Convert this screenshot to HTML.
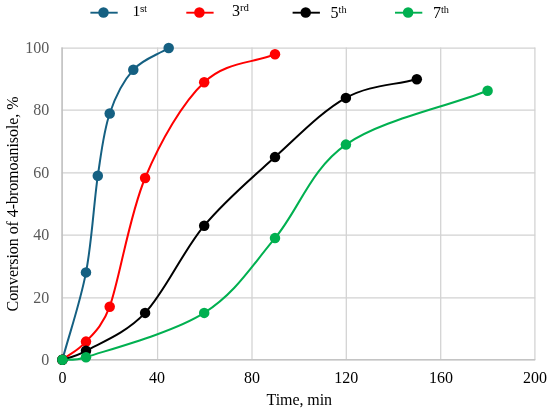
<!DOCTYPE html>
<html><head><meta charset="utf-8"><title>Chart</title>
<style>
html,body{margin:0;padding:0;background:#fff;}
body{width:550px;height:413px;overflow:hidden;}
svg{display:block;font-family:"Liberation Serif","Times New Roman",serif;font-size:16px;}
</style></head><body>
<svg width="550" height="413" viewBox="0 0 550 413">
<rect width="550" height="413" fill="#fff"/>
<g stroke="#d2d2d2" stroke-width="1.25" fill="none">
<line x1="61.9" y1="47.5" x2="61.9" y2="360.1"/>
<line x1="61.4" y1="359.6" x2="535.2" y2="359.6"/>
<line x1="157.6" y1="47.5" x2="157.6" y2="360.1"/>
<line x1="61.4" y1="297.9" x2="535.2" y2="297.9"/>
<line x1="252.0" y1="47.5" x2="252.0" y2="360.1"/>
<line x1="61.4" y1="235.2" x2="535.2" y2="235.2"/>
<line x1="346.3" y1="47.5" x2="346.3" y2="360.1"/>
<line x1="61.4" y1="172.9" x2="535.2" y2="172.9"/>
<line x1="440.7" y1="47.5" x2="440.7" y2="360.1"/>
<line x1="61.4" y1="110.1" x2="535.2" y2="110.1"/>
<line x1="534.9" y1="47.5" x2="534.9" y2="360.1"/>
<line x1="61.4" y1="48.0" x2="535.2" y2="48.0"/>
<line x1="62.2" y1="47.5" x2="62.2" y2="360.1" stroke="#bfbfbf"/>
<line x1="61.4" y1="359.8" x2="535.2" y2="359.8" stroke="#bfbfbf"/>
</g>
<g fill="#595959">
<text x="62.4" y="382.9" text-anchor="middle" fill="#000">0</text>
<text x="49.3" y="364.6" text-anchor="end">0</text>
<text x="157.0" y="382.9" text-anchor="middle" fill="#000">40</text>
<text x="49.3" y="302.9" text-anchor="end">20</text>
<text x="252.0" y="382.9" text-anchor="middle" fill="#000">80</text>
<text x="49.3" y="240.2" text-anchor="end">40</text>
<text x="346.3" y="382.9" text-anchor="middle" fill="#000">120</text>
<text x="49.3" y="177.9" text-anchor="end">60</text>
<text x="441.0" y="382.9" text-anchor="middle" fill="#000">160</text>
<text x="49.3" y="115.1" text-anchor="end">80</text>
<text x="535.1" y="382.9" text-anchor="middle" fill="#000">200</text>
<text x="49.3" y="53.0" text-anchor="end">100</text>
</g>
<g>
<line x1="90.4" y1="12.7" x2="117.7" y2="12.7" stroke="#156082" stroke-width="1.9"/>
<circle cx="103.5" cy="12.5" r="5.25" fill="#156082"/>
<text x="132.6" y="16.3" fill="#000" font-size="15.6">1<tspan dy="-4.6" font-family="Liberation Sans, Arial, sans-serif" font-size="8.7" dx="-0.5">st</tspan></text>
<line x1="186.3" y1="12.7" x2="213.6" y2="12.7" stroke="#ff0000" stroke-width="1.9"/>
<circle cx="199.4" cy="12.5" r="5.25" fill="#ff0000"/>
<text x="232.0" y="15.6" fill="#000" font-size="16">3<tspan dy="-4.3" font-size="10.8">rd</tspan></text>
<line x1="292.6" y1="12.7" x2="319.9" y2="12.7" stroke="#000000" stroke-width="1.9"/>
<circle cx="305.7" cy="12.5" r="5.25" fill="#000000"/>
<text x="330.6" y="17.7" fill="#000" font-size="16">5<tspan dy="-5.0" font-size="10.3">th</tspan></text>
<line x1="395.0" y1="12.7" x2="422.3" y2="12.7" stroke="#00b050" stroke-width="1.9"/>
<circle cx="408.1" cy="12.5" r="5.25" fill="#00b050"/>
<text x="433.0" y="17.7" fill="#000" font-size="16">7<tspan dy="-5.0" font-size="10.3">th</tspan></text>
</g>
<text x="299.3" y="405.4" text-anchor="middle" fill="#000" textLength="65.4">Time, min</text>
<text transform="translate(17.5 203.95) rotate(-90)" text-anchor="middle" fill="#000" textLength="215">Conversion of 4-bromoanisole, %</text>
<g fill="#156082" stroke="#156082">
<path d="M62.4 359.7 C70.3 330.6 80.1 303.1 86.0 272.4 C91.9 241.8 93.9 202.3 97.8 175.8 C101.8 149.3 103.7 131.1 109.7 113.5 C115.6 95.8 123.4 80.7 133.3 69.8 C143.1 58.9 156.9 55.3 168.7 48.0" fill="none" stroke-width="2" stroke-linecap="round" stroke-linejoin="round"/>
<circle cx="62.4" cy="359.7" r="5.25" stroke="none"/>
<circle cx="86.0" cy="272.4" r="5.25" stroke="none"/>
<circle cx="97.8" cy="175.8" r="5.25" stroke="none"/>
<circle cx="109.7" cy="113.5" r="5.25" stroke="none"/>
<circle cx="133.3" cy="69.8" r="5.25" stroke="none"/>
<circle cx="168.7" cy="48.0" r="5.25" stroke="none"/>
</g>
<g fill="#ff0000" stroke="#ff0000">
<path d="M62.4 359.7 C70.3 353.7 78.2 350.5 86.0 341.6 C91.7 335.2 102.5 326.5 109.7 306.7 C119.5 279.4 129.3 215.4 145.1 178.0 C160.8 140.6 182.5 102.9 204.2 82.3 C225.8 61.7 251.4 63.6 275.0 54.2" fill="none" stroke-width="2" stroke-linecap="round" stroke-linejoin="round"/>
<circle cx="62.4" cy="359.7" r="5.25" stroke="none"/>
<circle cx="86.0" cy="341.6" r="5.25" stroke="none"/>
<circle cx="109.7" cy="306.7" r="5.25" stroke="none"/>
<circle cx="145.1" cy="178.0" r="5.25" stroke="none"/>
<circle cx="204.2" cy="82.3" r="5.25" stroke="none"/>
<circle cx="275.0" cy="54.2" r="5.25" stroke="none"/>
</g>
<g fill="#000000" stroke="#000000">
<path d="M62.4 359.7 C65.5 358.5 75.0 357.0 86.0 350.8 C99.8 343.0 125.4 333.8 145.1 312.9 C164.8 292.1 182.5 251.6 204.2 225.7 C225.8 199.7 251.4 178.4 275.0 157.1 C298.6 135.8 322.3 110.9 345.9 97.9 C369.5 84.9 393.1 85.4 416.8 79.2" fill="none" stroke-width="2" stroke-linecap="round" stroke-linejoin="round"/>
<circle cx="62.4" cy="359.7" r="5.25" stroke="none"/>
<circle cx="86.0" cy="350.8" r="5.25" stroke="none"/>
<circle cx="145.1" cy="312.9" r="5.25" stroke="none"/>
<circle cx="204.2" cy="225.7" r="5.25" stroke="none"/>
<circle cx="275.0" cy="157.1" r="5.25" stroke="none"/>
<circle cx="345.9" cy="97.9" r="5.25" stroke="none"/>
<circle cx="416.8" cy="79.2" r="5.25" stroke="none"/>
</g>
<g fill="#00b050" stroke="#00b050">
<path d="M62.4 359.7 C64.3 359.5 74.7 360.9 86.0 357.2 C109.7 349.4 172.7 332.8 204.2 312.9 C235.7 293.1 251.4 266.2 275.0 238.1 C298.6 210.1 310.5 169.2 345.9 144.6 C381.3 120.1 440.4 108.7 487.6 90.7" fill="none" stroke-width="2" stroke-linecap="round" stroke-linejoin="round"/>
<circle cx="62.4" cy="359.7" r="5.25" stroke="none"/>
<circle cx="86.0" cy="357.2" r="5.25" stroke="none"/>
<circle cx="204.2" cy="312.9" r="5.25" stroke="none"/>
<circle cx="275.0" cy="238.1" r="5.25" stroke="none"/>
<circle cx="345.9" cy="144.6" r="5.25" stroke="none"/>
<circle cx="487.6" cy="90.7" r="5.25" stroke="none"/>
</g>
</svg>
</body></html>
